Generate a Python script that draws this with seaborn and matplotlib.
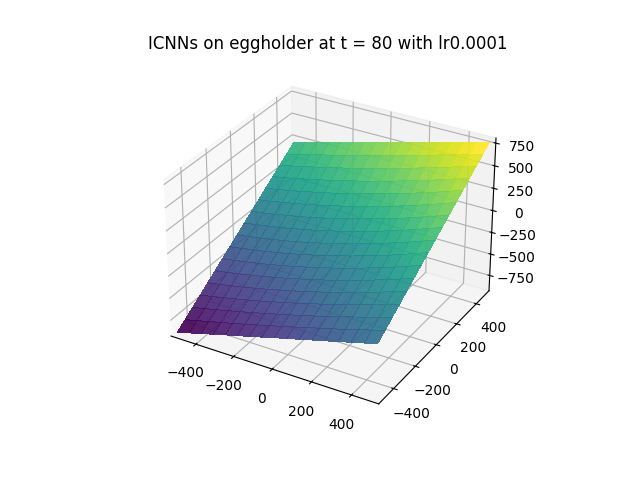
import numpy as np
import matplotlib
matplotlib.use("Agg")
import matplotlib.pyplot as plt
import seaborn as sns

sns.set_theme(style="white")
plt.style.use("default")

TITLE = "ICNNs on eggholder at t = 80 with lr0.0001"
x_values = [-512, -448, -384, -320, -256, -192, -128, -64, 0, 64, 128, 192, 256, 320, 384, 448, 512]
y_values = [-512, -448, -384, -320, -256, -192, -128, -64, 0, 64, 128, 192, 256, 320, 384, 448, 512]
z_rows = [
    [-895, -859, -822, -785, -748, -712, -675, -639, -601, -565, -529, -492, -456, -419, -382, -345, -309],
    [-827, -794, -761, -728, -693, -659, -623, -587, -550, -514, -476, -438, -401, -362, -322, -281, -242],
    [-760, -731, -700, -669, -636, -603, -568, -533, -497, -460, -423, -384, -344, -302, -261, -217, -174],
    [-693, -666, -637, -608, -578, -546, -512, -477, -442, -405, -365, -326, -285, -243, -198, -153, -107],
    [-624, -600, -574, -547, -517, -486, -453, -419, -384, -346, -307, -266, -224, -180, -135, -88, -39],
    [-556, -534, -509, -482, -455, -424, -393, -358, -323, -286, -247, -205, -163, -118, -71, -22, 28],
    [-488, -467, -444, -419, -391, -362, -331, -296, -262, -224, -184, -142, -99, -53, -5, 44, 96],
    [-421, -400, -377, -353, -326, -296, -265, -232, -197, -159, -120, -77, -33, 12, 61, 112, 163],
    [-353, -333, -311, -286, -260, -230, -200, -166, -131, -93, -54, -11, 33, 78, 127, 178, 230],
    [-285, -265, -242, -217, -191, -161, -131, -97, -62, -24, 16, 58, 101, 147, 196, 246, 298],
    [-217, -197, -173, -147, -121, -91, -60, -26, 8, 47, 86, 128, 171, 216, 265, 314, 365],
    [-150, -128, -104, -76, -49, -18, 13, 47, 82, 120, 158, 200, 242, 288, 334, 383, 433],
    [-82, -59, -32, -5, 25, 55, 88, 122, 158, 195, 234, 273, 316, 360, 404, 452, 500],
    [-14, 12, 40, 68, 99, 132, 165, 199, 234, 271, 310, 350, 390, 433, 476, 522, 568],
    [54, 83, 113, 144, 176, 208, 243, 278, 314, 351, 389, 427, 467, 508, 549, 592, 635],
    [121, 154, 187, 220, 254, 290, 324, 360, 396, 432, 469, 507, 544, 584, 622, 663, 702],
    [189, 225, 261, 298, 334, 370, 406, 443, 479, 516, 552, 589, 625, 661, 697, 734, 770],
]

X, Y = np.meshgrid(x_values, y_values)
Z = np.array(z_rows, dtype=float)

fig = plt.figure(figsize=(6.4, 4.8), dpi=100)
ax = fig.add_subplot(projection="3d")
ax.margins(0)
ax.plot_surface(X, Y, Z, cmap=sns.color_palette("viridis", as_cmap=True),
                rstride=1, cstride=1, linewidth=0, antialiased=False, alpha=0.9)
ax.set_title(TITLE)
fig.savefig("out.png", dpi=100)
